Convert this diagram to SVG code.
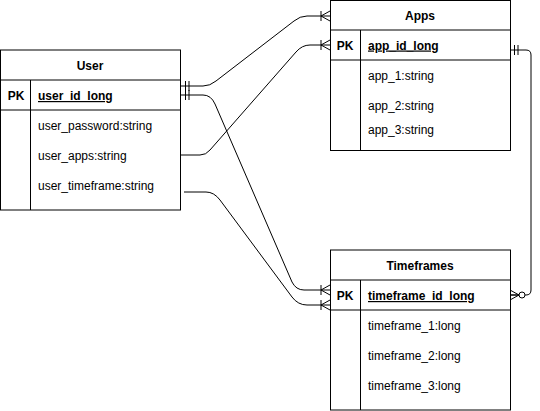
<svg xmlns="http://www.w3.org/2000/svg" width="540" height="411" viewBox="0 0 540 411">
<style>
.box{fill:#fff;stroke:#000;stroke-width:1}
.ln{stroke:#000;stroke-width:1;fill:none}
text{font-family:"Liberation Sans",Arial,sans-serif;font-size:12px;fill:#000}
.hd{font-weight:bold;text-anchor:middle}
.pk{font-weight:bold;text-anchor:middle}
.pkf{font-weight:bold;text-decoration:underline}
.con{stroke:#000;stroke-width:1;fill:none}
</style>
<defs>
<marker id="oneMany" markerUnits="userSpaceOnUse" viewBox="-12 -7 14 14" refX="0" refY="0" markerWidth="14" markerHeight="14" orient="auto" overflow="visible">
<path d="M-9,-5 L-9,5 M-9,0 L0,-5 M-9,0 L0,5" stroke="#000" stroke-width="1" fill="none"/>
</marker>
<marker id="mandOne" markerUnits="userSpaceOnUse" viewBox="-12 -7 14 14" refX="0" refY="0" markerWidth="14" markerHeight="14" orient="auto-start-reverse" overflow="visible">
<path d="M-4.5,-5 L-4.5,5 M-8,-5 L-8,5" stroke="#000" stroke-width="1" fill="none"/>
</marker>
<marker id="zeroMany" markerUnits="userSpaceOnUse" viewBox="-16 -7 18 14" refX="0" refY="0" markerWidth="18" markerHeight="14" orient="auto" overflow="visible">
<path d="M-9,0 L0,-5 M-9,0 L0,5 M-9,0 L0,0" stroke="#000" stroke-width="1" fill="none"/>
<circle cx="-12" cy="0" r="3" fill="#fff" stroke="#000" stroke-width="1"/>
</marker>
</defs>

<g id="connectors">
<path class="con" d="M181,86 L203,86 Q210,86 216,81 L294,21 Q300,16 307,16 L330,16" marker-start="url(#mandOne)" marker-end="url(#oneMany)"/>
<path class="con" d="M181,155 L200,155 Q206,155 210,150 L296,52 Q302,45 310,45 L330,45" marker-end="url(#oneMany)"/>
<path class="con" d="M181,95 L203,95 Q211,95 215,104 L292,282 Q296,290 304,290 L330,290" marker-start="url(#mandOne)" marker-end="url(#oneMany)"/>
<path class="con" d="M184,192 L206,192 Q214,192 220,200 L292,297 Q298,305 307,305 L330,305" marker-end="url(#oneMany)"/>
<path class="con" d="M510,50 L526,50 Q531,50 531,55 L531,290 Q531,295 526,295 L510,295" marker-start="url(#mandOne)" marker-end="url(#zeroMany)"/>
</g>

<g id="user">
<rect class="box" x="0.5" y="50" width="180" height="160"/>
<line class="ln" x1="0.5" y1="80" x2="180.5" y2="80"/>
<line class="ln" x1="0.5" y1="110" x2="180.5" y2="110"/>
<line class="ln" x1="30.5" y1="80" x2="30.5" y2="210"/>
<text class="hd" x="90" y="69.5">User</text>
<text class="pk" x="16" y="100">PK</text>
<text class="pkf" x="38" y="100">user_id_long</text>
<text x="38" y="130">user_password:string</text>
<text x="38" y="160">user_apps:string</text>
<text x="38" y="190">user_timeframe:string</text>
</g>

<g id="apps">
<rect class="box" x="330.5" y="0.5" width="180" height="150"/>
<line class="ln" x1="330.5" y1="30" x2="510.5" y2="30"/>
<line class="ln" x1="330.5" y1="60" x2="510.5" y2="60"/>
<line class="ln" x1="360.5" y1="30" x2="360.5" y2="150.5"/>
<text class="hd" x="420" y="19.5">Apps</text>
<text class="pk" x="345" y="49.5">PK</text>
<text class="pkf" x="368" y="49.5">app_id_long</text>
<text x="368" y="80">app_1:string</text>
<text x="368" y="110">app_2:string</text>
<text x="368" y="134">app_3:string</text>
</g>

<g id="timeframes">
<rect class="box" x="330.5" y="250" width="180" height="160"/>
<line class="ln" x1="330.5" y1="280" x2="510.5" y2="280"/>
<line class="ln" x1="330.5" y1="310" x2="510.5" y2="310"/>
<line class="ln" x1="360.5" y1="280" x2="360.5" y2="410"/>
<text class="hd" x="420" y="269.5">Timeframes</text>
<text class="pk" x="345" y="300">PK</text>
<text class="pkf" x="368" y="300">timeframe_id_long</text>
<text x="368" y="330">timeframe_1:long</text>
<text x="368" y="360">timeframe_2:long</text>
<text x="368" y="390">timeframe_3:long</text>
</g>
</svg>
